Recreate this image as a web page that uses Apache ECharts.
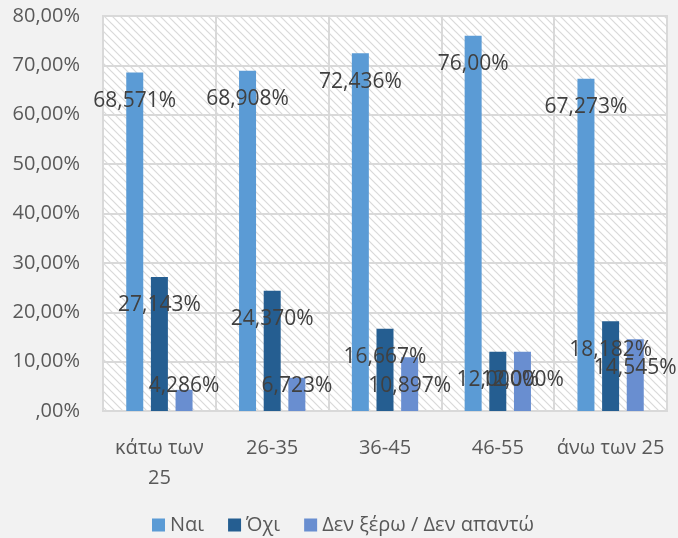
<!DOCTYPE html>
<html><head><meta charset="utf-8">
<script src="https://cdn.jsdelivr.net/npm/echarts@6/dist/echarts.min.js"></script>
<style>html,body{margin:0;padding:0;background:#f2f2f2}#c{width:678px;height:538px}</style>
</head><body><div id="c"></div>
<script>
const categories = ['κάτω των\n25', '26-35', '36-45', '46-55', 'άνω των 25'];
const seriesNames = ['Ναι', 'Όχι', 'Δεν ξέρω / Δεν απαντώ'];
const naiValues = [68.571, 68.908, 72.436, 76.00, 67.273];
const oxiValues = [27.143, 24.370, 16.667, 12.000, 18.182];
const denValues = [4.286, 6.723, 10.897, 12.000, 14.545];
const naiLabels = ['68,571%', '68,908%', '72,436%', '76,00%', '67,273%'];
const oxiLabels = ['27,143%', '24,370%', '16,667%', '12,000%', '18,182%'];
const denLabels = ['4,286%', '6,723%', '10,897%', '12,000%', '14,545%'];
const yTicks = [',00%', '10,00%', '20,00%', '30,00%', '40,00%', '50,00%', '60,00%', '70,00%', '80,00%'];

const colors = ['#5b9bd5', '#255e91', '#698ed0'];
const FONT = 'Open Sans';

// hatch pattern tile
const tile = document.createElement('canvas');
tile.width = 8; tile.height = 8;
const g = tile.getContext('2d');
g.fillStyle = '#ffffff'; g.fillRect(0, 0, 8, 8);
g.strokeStyle = '#d9d9d9'; g.lineWidth = 1.2;
g.beginPath();
g.moveTo(-1, -1); g.lineTo(9, 9);
g.moveTo(-9, -1); g.lineTo(1, 9);
g.moveTo(7, -1); g.lineTo(17, 9);
g.stroke();

function buildData(values, labels) {
  return values.map((v, i) => {
    const small = v < 10.7;
    return {
      value: v,
      label: small
        ? { position: 'insideBottom', distance: 14, formatter: () => labels[i] }
        : { position: 'insideTop', distance: 18, formatter: () => labels[i] }
    };
  });
}

const allValues = [naiValues, oxiValues, denValues];
const allLabels = [naiLabels, oxiLabels, denLabels];

const chart = echarts.init(document.getElementById('c'));
chart.setOption({
  backgroundColor: '#f2f2f2',
  animation: false,
  textStyle: { fontFamily: FONT },
  grid: {
    left: 103, right: 11, top: 16, bottom: 127,
    show: true,
    backgroundColor: { image: tile, repeat: 'repeat' },
    borderColor: '#d9d9d9', borderWidth: 2
  },
  legend: {
    data: seriesNames,
    left: 147, top: 510,
    itemWidth: 13, itemHeight: 13, itemGap: 24,
    icon: 'rect',
    textStyle: { fontFamily: FONT, fontSize: 20, color: '#595959' }
  },
  xAxis: {
    type: 'category',
    data: categories,
    axisLine: { show: true, lineStyle: { color: '#d9d9d9', width: 2 } },
    axisTick: { show: false },
    splitLine: { show: true, lineStyle: { color: '#d9d9d9', width: 2 } },
    axisLabel: { fontFamily: FONT, fontSize: 20, color: '#595959', margin: 22, lineHeight: 30, interval: 0 }
  },
  yAxis: {
    type: 'value', min: 0, max: 80, interval: 10,
    axisLine: { show: false },
    axisTick: { show: false },
    splitLine: { show: true, lineStyle: { color: '#d9d9d9', width: 2 } },
    axisLabel: {
      fontFamily: FONT, fontSize: 20, color: '#595959', margin: 23,
      formatter: (v) => yTicks[Math.round(v / 10)]
    }
  },
  series: seriesNames.map((name, s) => ({
    name: name,
    type: 'bar',
    barWidth: 17,
    barGap: '45%',
    itemStyle: { color: colors[s] },
    label: { show: true, fontFamily: FONT, fontSize: 21, lineHeight: 21, color: '#404040' },
    data: buildData(allValues[s], allLabels[s])
  }))
});
</script>
</body></html>
